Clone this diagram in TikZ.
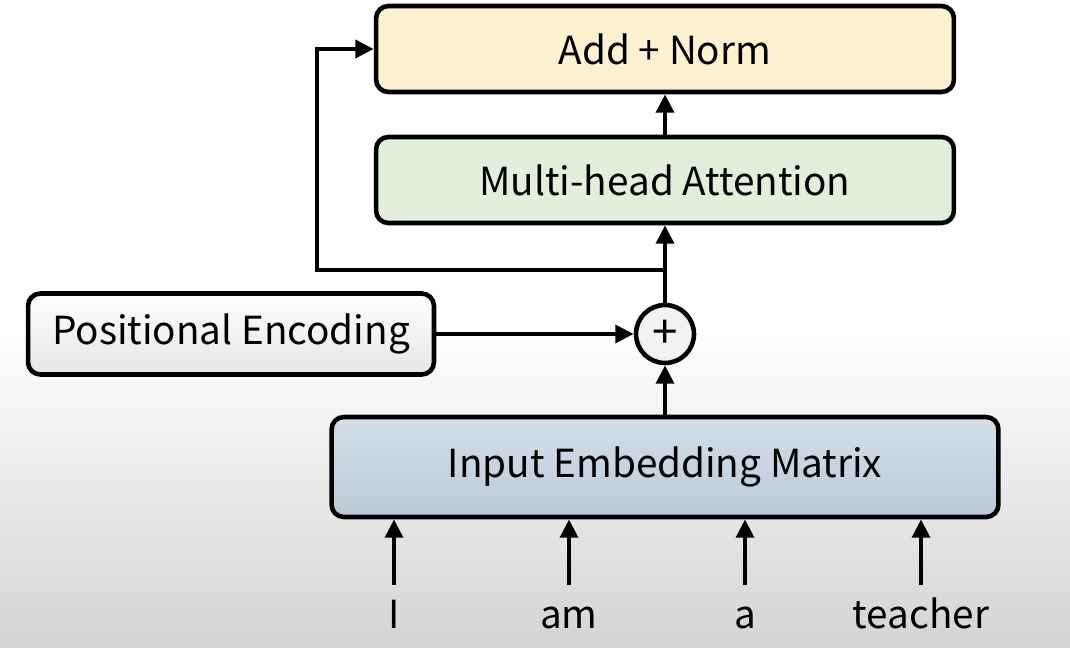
\documentclass[tikz,border=0pt]{standalone}
\usepackage{fontspec}
\setmainfont{Noto Sans CJK KR}
\usetikzlibrary{arrows.meta,positioning,calc}
\definecolor{normfill}{HTML}{FDF1CF}
\definecolor{attnfill}{HTML}{E2EFDA}
\definecolor{embtop}{HTML}{D3DFEA}
\definecolor{embbot}{HTML}{BCC9D7}

\begin{document}
\begin{tikzpicture}[x=0.02cm,y=-0.02cm,
  blk/.style={draw, line width=2.6pt, rounded corners=7pt, inner sep=0pt,
    font=\fontsize{22}{26}\selectfont},
  arr/.style={-{Triangle[length=10.5pt,width=10pt]}, line width=2.6pt},
  word/.style={font=\fontsize{22}{26}\selectfont, inner sep=0pt, anchor=base}]
% background
\fill[white] (0,0) rectangle (1070,648);
\shade[top color=white, bottom color=black!17] (0,330) rectangle (1070,648);

% blocks
\node[blk, fill=normfill, minimum width=11.56cm, minimum height=1.72cm] (norm) at (665,49) {Add + Norm};
\node[blk, fill=attnfill, minimum width=11.56cm, minimum height=1.72cm] (attn) at (665,180) {Multi-head Attention};
\node[blk, top color=white, bottom color=black!10, minimum width=8.12cm, minimum height=1.62cm] (pos) at (231,334) {Positional Encoding};
\node[circle, draw, line width=2.6pt, fill=black!5, minimum size=1.16cm, inner sep=0pt,
  font=\fontsize{26}{30}\selectfont] (plus) at (665,334) {+};
\node[blk, top color=embtop, bottom color=embbot, minimum width=13.34cm, minimum height=2.0cm] (emb) at (665,467) {Input Embedding Matrix};

% input tokens
\node[word] (wI) at (394,628) {I};
\node[word] (wam) at (569,628) {am};
\node[word] (wa) at (745,628) {a};
\node[word] (wteacher) at (921,628) {teacher};

% connections
\foreach \w in {wI,wam,wa,wteacher}
  \draw[arr] (\w |- 0,585) -- (\w |- emb.south);
\draw[arr] (emb) -- (plus);
\draw[arr] (pos) -- (plus);
\draw[arr] (plus) -- (attn);
\draw[arr] (attn) -- (norm);

% residual path
\coordinate (split) at (665,270);
\coordinate (bend) at (317,270);
\draw[arr] (split) -- (bend) |- (norm.west);
\end{tikzpicture}
\end{document}
